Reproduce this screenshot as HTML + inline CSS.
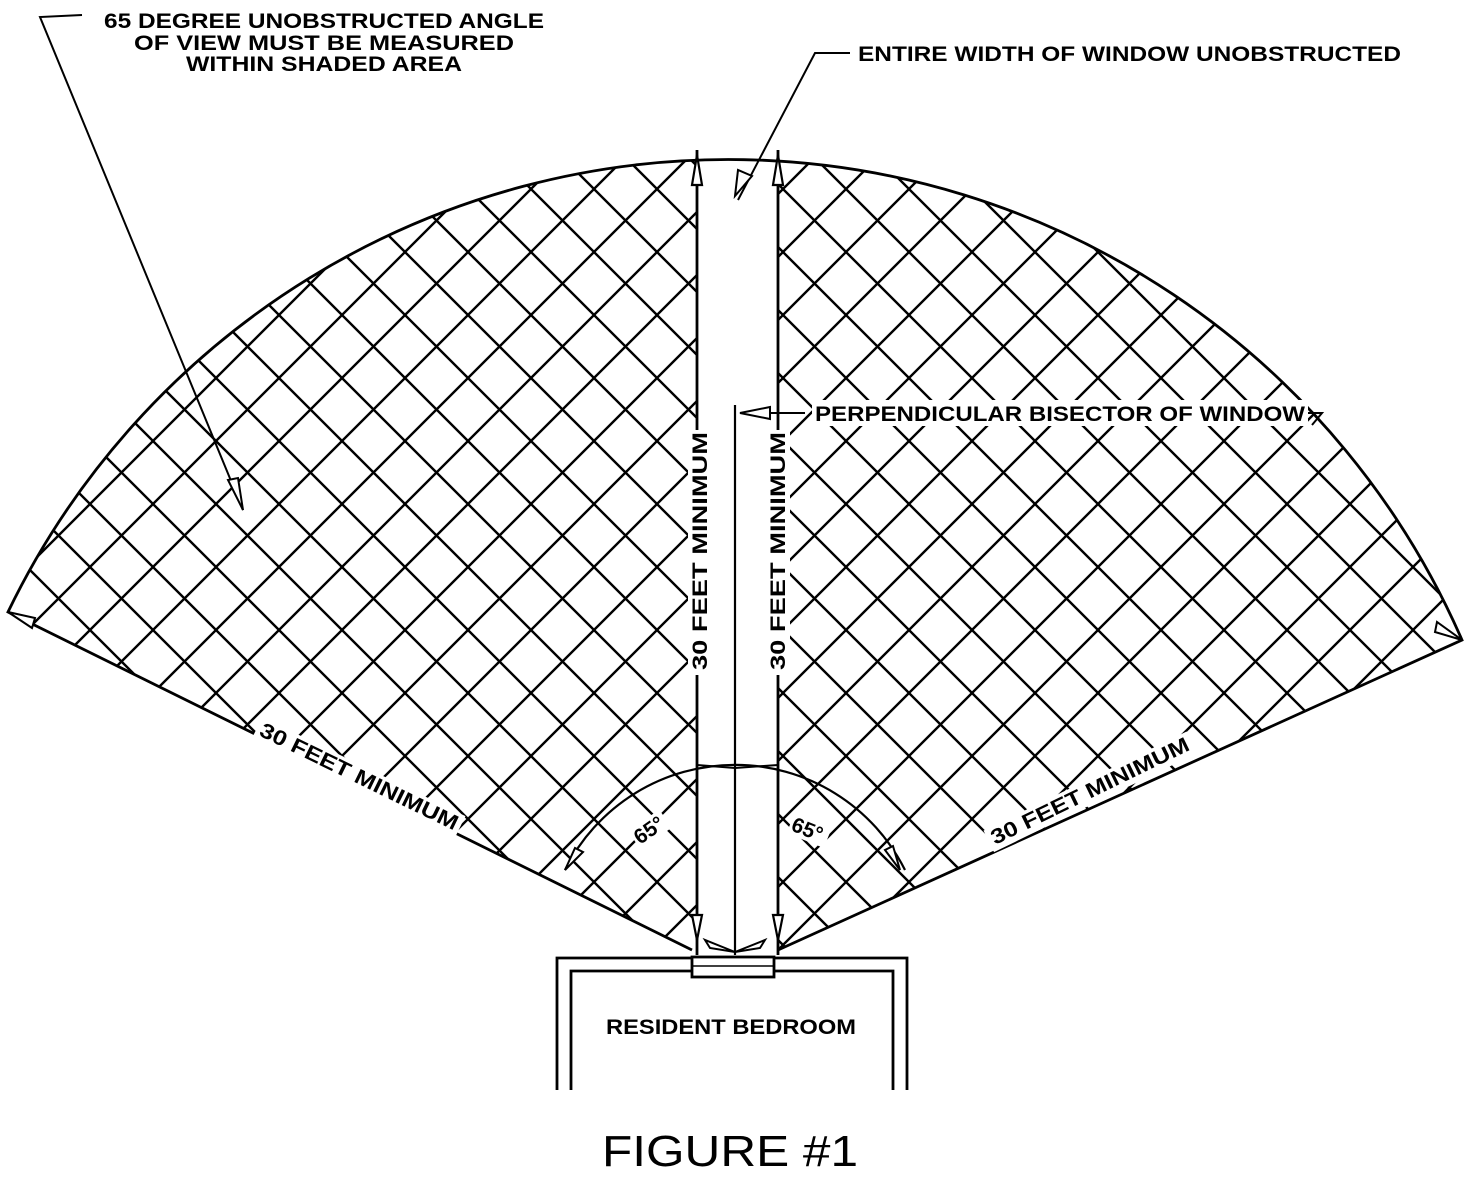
<!DOCTYPE html>
<html><head><meta charset="utf-8"><style>
html,body{margin:0;padding:0;background:#fff;}
svg{display:block}
text{font-family:"Liberation Sans",sans-serif;font-weight:bold;fill:#000}
</style></head><body>
<svg width="1475" height="1187" viewBox="0 0 1475 1187" xmlns="http://www.w3.org/2000/svg">
<defs>
<pattern id="hatch" patternUnits="userSpaceOnUse" width="63" height="63" x="27" y="0">
<path d="M-10,-10 L73,73 M-10,53 L10,73 M53,-10 L73,10 M73,-10 L-10,73 M10,-10 L-10,10 M73,53 L53,73" stroke="#000" stroke-width="2.4" fill="none"/>
</pattern>
</defs>
<path d="M692,950 L8,612 A800,800 0 0 1 1462,640 L778,950 Z" fill="url(#hatch)" stroke="none"/>
<rect x="697" y="140" width="81" height="820" fill="#fff"/>
<path d="M692,950 L8,612 A800,800 0 0 1 1462,640 L778,950" fill="none" stroke="#000" stroke-width="2.8"/>
<line x1="697" y1="150" x2="697" y2="955" stroke="#000" stroke-width="2.8"/>
<line x1="778" y1="150" x2="778" y2="955" stroke="#000" stroke-width="2.8"/>
<line x1="735" y1="405" x2="735" y2="955" stroke="#000" stroke-width="2.2"/>
<path d="M565,870 A190,190 0 0 1 905,870" fill="none" stroke="#000" stroke-width="2.2"/>
<path d="M697,765 L735,768 L778,765" fill="none" stroke="#000" stroke-width="2"/>
<path d="M697,155 L692,185 L702,185 Z" fill="#fff" stroke="#000" stroke-width="2.2"/>
<path d="M778,155 L773,185 L783,185 Z" fill="#fff" stroke="#000" stroke-width="2.2"/>
<path d="M697,940 L692,915 L702,915 Z" fill="#fff" stroke="#000" stroke-width="2.2"/>
<path d="M778,940 L773,915 L783,915 Z" fill="#fff" stroke="#000" stroke-width="2.2"/>
<path d="M735,952 L705,940 L710,948 Z M735,952 L765,940 L760,948 Z" fill="#fff" stroke="#000" stroke-width="2"/>
<path d="M8,612 L35,618 L32,628 Z" fill="#fff" stroke="#000" stroke-width="2"/>
<path d="M1462,640 L1435,632 L1437,622 Z" fill="#fff" stroke="#000" stroke-width="2"/>
<path d="M565,870 L575,848 L583,852 Z" fill="#fff" stroke="#000" stroke-width="2"/>
<path d="M900,870 L885,850 L893,846 Z" fill="#fff" stroke="#000" stroke-width="2"/>
<path d="M557,1090 L557,958 L907,958 L907,1090" fill="none" stroke="#000" stroke-width="2.8"/>
<path d="M571,1090 L571,971 L893,971 L893,1090" fill="none" stroke="#000" stroke-width="2.8"/>
<rect x="692" y="957" width="82" height="20" fill="#fff" stroke="#000" stroke-width="2.8"/>
<line x1="692" y1="966" x2="774" y2="966" stroke="#000" stroke-width="1.5"/>
<path d="M82,15 L40,17 L243,510" fill="none" stroke="#000" stroke-width="2"/>
<path d="M243,510 L228,480 L238,478 Z" fill="#fff" stroke="#000" stroke-width="2"/>
<path d="M850,53 L815,53 L738,200" fill="none" stroke="#000" stroke-width="2"/>
<path d="M735,196 L738,170 L752,176 Z" fill="#fff" stroke="#000" stroke-width="2"/>
<path d="M805,413 L740,413" fill="none" stroke="#000" stroke-width="2"/>
<path d="M740,413 L770,407 L770,419 Z" fill="#fff" stroke="#000" stroke-width="2"/>
<path d="M1308,413 L1322,413 L1312,425" fill="none" stroke="#000" stroke-width="2"/>
<rect x="688" y="430" width="22" height="245" fill="#fff"/>
<rect x="766" y="430" width="24" height="245" fill="#fff"/>
<rect x="812" y="400" width="496" height="26" fill="#fff"/>
<text x="324" y="28" font-size="21" text-anchor="middle" textLength="440" lengthAdjust="spacingAndGlyphs">65 DEGREE UNOBSTRUCTED ANGLE</text>
<text x="324" y="50" font-size="21" text-anchor="middle" textLength="380" lengthAdjust="spacingAndGlyphs">OF VIEW MUST BE MEASURED</text>
<text x="324" y="71" font-size="21" text-anchor="middle" textLength="276" lengthAdjust="spacingAndGlyphs">WITHIN SHADED AREA</text>
<text x="858" y="61" font-size="21" textLength="543" lengthAdjust="spacingAndGlyphs">ENTIRE WIDTH OF WINDOW UNOBSTRUCTED</text>
<text x="815" y="421" font-size="21" textLength="490" lengthAdjust="spacingAndGlyphs">PERPENDICULAR BISECTOR OF WINDOW</text>
<text transform="translate(707,670) rotate(-90)" font-size="21" textLength="238" lengthAdjust="spacingAndGlyphs">30 FEET MINIMUM</text>
<text transform="translate(785,670) rotate(-90)" font-size="21" textLength="238" lengthAdjust="spacingAndGlyphs">30 FEET MINIMUM</text>
<g transform="translate(258,735) rotate(26)"><rect x="-4" y="-18" width="226" height="24" fill="#fff"/><text x="0" y="0" font-size="21" textLength="218" lengthAdjust="spacingAndGlyphs">30 FEET MINIMUM</text></g>
<g transform="translate(995,845) rotate(-26)"><rect x="-4" y="-18" width="226" height="24" fill="#fff"/><text x="0" y="0" font-size="21" textLength="218" lengthAdjust="spacingAndGlyphs">30 FEET MINIMUM</text></g>
<g transform="translate(640,845) rotate(-35)"><rect x="-2" y="-18" width="38" height="22" fill="#fff"/><text x="0" y="0" font-size="21">65°</text></g>
<g transform="translate(790,830) rotate(22)"><rect x="-2" y="-18" width="40" height="22" fill="#fff"/><text x="0" y="0" font-size="21">65°</text></g>
<text x="731" y="1034" font-size="21" text-anchor="middle" textLength="250" lengthAdjust="spacingAndGlyphs">RESIDENT BEDROOM</text>
<text x="730" y="1166" font-size="44" text-anchor="middle" style="font-weight:normal" textLength="256" lengthAdjust="spacingAndGlyphs">FIGURE #1</text>
</svg>
</body></html>
